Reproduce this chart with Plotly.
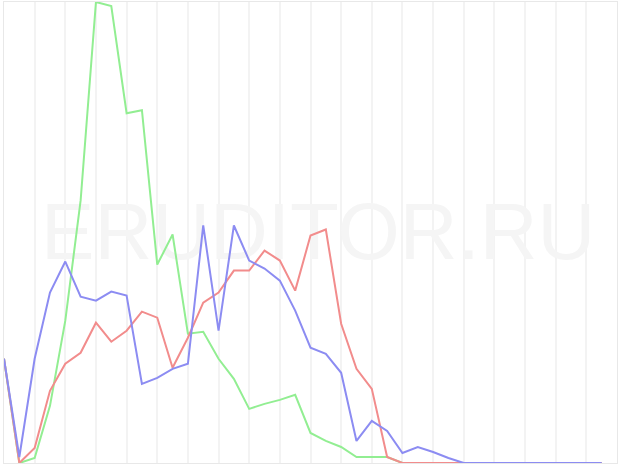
import plotly.graph_objects as go

idx = list(range(40))

green = [104, 0, 5, 57, 142, 262, 460, 456, 349, 352, 198, 228, 129, 131, 104, 84,
         54, 59, 63, 68, 30, 22, 16, 6, 6, 6, 0, 0, 0, 0, 0, 0, 0, 0, 0, 0, 0, 0, 0, 0]
red = [104, 0, 15, 72, 99, 110, 140, 121, 132, 151, 145, 95, 125, 160, 170, 192,
       192, 212, 202, 172, 227, 233, 139, 94, 74, 6, 0, 0, 0, 0, 0, 0, 0, 0, 0, 0, 0, 0, 0, 0]
blue = [104, 6, 104, 170, 201, 166, 162, 171, 167, 79, 85, 94, 99, 237, 132, 237,
        202, 194, 182, 152, 115, 109, 90, 22, 42, 32, 10, 16, 11, 5, 0, 0, 0, 0, 0, 0, 0, 0, 0, 0]

watermark = "ERUDITOR.RU"

fig = go.Figure()
fig.add_trace(go.Scatter(x=[20.5], y=[224], mode="text", text=[watermark],
                         textfont=dict(family="Liberation Sans, Arial", size=80, color="#f5f5f5"),
                         hoverinfo="skip", showlegend=False, cliponaxis=False))
fig.add_trace(go.Scatter(x=idx, y=green, mode="lines", line=dict(color="#92ee92", width=2),
                         showlegend=False, cliponaxis=False))
fig.add_trace(go.Scatter(x=idx, y=red, mode="lines", line=dict(color="#f28c8c", width=2),
                         showlegend=False, cliponaxis=False))
fig.add_trace(go.Scatter(x=idx, y=blue, mode="lines", line=dict(color="#8c8cf2", width=2),
                         showlegend=False, cliponaxis=False))

fig.update_layout(
    width=620, height=465,
    margin=dict(l=4, r=3, t=2, b=2),
    paper_bgcolor="white", plot_bgcolor="white",
    xaxis=dict(range=[0, 40], dtick=2, tick0=0, showgrid=True, gridcolor="#f3f3f3", gridwidth=2,
               zeroline=False, showticklabels=False, ticks="", showline=True,
               linecolor="#e8e8e8", linewidth=1, mirror=True),
    yaxis=dict(range=[0, 460], showgrid=False, zeroline=False, showticklabels=False,
               ticks="", showline=True, linecolor="#e8e8e8", linewidth=1, mirror=True),
)

fig.write_html("out.html", config={"displayModeBar": False},
               post_script="document.body.style.margin='0';document.body.style.overflow='hidden';")
